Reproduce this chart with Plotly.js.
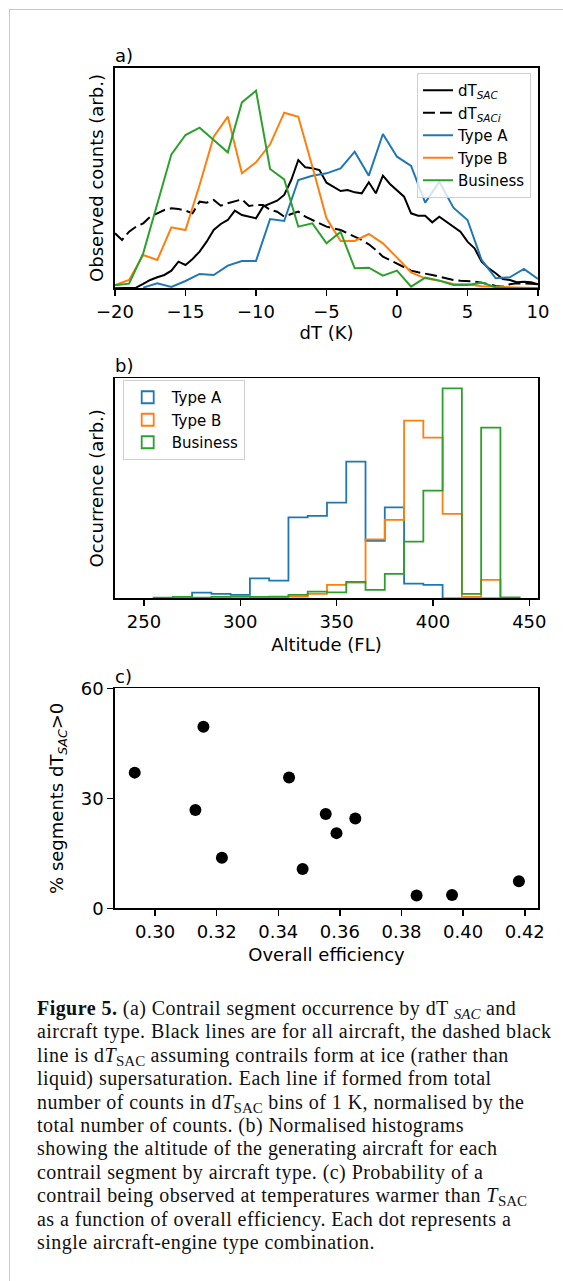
<!DOCTYPE html>
<html>
<head>
<meta charset="utf-8">
<script src="https://cdn.plot.ly/plotly-3.0.1.min.js"></script>
<style>
  html, body { margin: 0; padding: 0; background: #fff; }
  #wrap { position: relative; width: 563px; height: 1281px; overflow: hidden; }
  #frame { position: absolute; left: 9px; top: 9px; width: 600px; height: 1300px;
           border-left: 1.5px solid #c8c8c8; border-top: 1.5px solid #c8c8c8; }
  #chart { position: absolute; left: 0; top: 0; width: 563px; height: 1281px; }
  #caption { position: absolute; left: 37px; top: 997px; font-family: 'Liberation Serif', serif;
             font-size: 20px; letter-spacing: 0.45px; line-height: 23.4px; color: #111; white-space: nowrap; }
  #caption sub { font-size: 0.75em; vertical-align: -0.25em; line-height: 0; letter-spacing: 0; }
</style>
</head>
<body>
<div id="wrap">
  <div id="frame"></div>
  <div id="chart"></div>
  <div id="caption">
    <div><b>Figure 5.</b> (a) Contrail segment occurrence by dT <sub><i>SAC</i></sub> and</div>
    <div>aircraft type. Black lines are for all aircraft, the dashed black</div>
    <div>line is d<i>T</i><sub>SAC</sub> assuming contrails form at ice (rather than</div>
    <div>liquid) supersaturation. Each line if formed from total</div>
    <div>number of counts in d<i>T</i><sub>SAC</sub> bins of 1 K, normalised by the</div>
    <div>total number of counts. (b) Normalised histograms</div>
    <div>showing the altitude of the generating aircraft for each</div>
    <div>contrail segment by aircraft type. (c) Probability of a</div>
    <div>contrail being observed at temperatures warmer than <i>T</i><sub>SAC</sub></div>
    <div>as a function of overall efficiency. Each dot represents a</div>
    <div>single aircraft-engine type combination.</div>
  </div>
</div>
<script>
// ---------- Panel (a): counts vs dT ----------
// 1 K bins
const dT1 = [-20,-19,-18,-17,-16,-15,-14,-13,-12,-11,-10,-9,-8,-7,-6,-5,-4,-3,-2,-1,0,1,2,3,4,5,6,7,8,9,10];
const typeA_counts    = [null,null,2,15,4,22,43,40,68,82,82,208,202,325,338,345,360,410,338,463,395,367,257,320,242,205,85,30,33,58,28];
const typeB_counts    = [10,25,100,85,183,175,310,455,515,345,378,432,527,515,365,210,142,142,163,135,92,48,30,23,13,12,6,4,3,2,1];
const business_counts = [9,14,105,255,402,460,482,445,408,558,593,358,327,185,195,135,169,60,62,38,53,5,32,23,10,10,17,3,0,0,0];
// 0.5 K resolution for all-aircraft lines
const dTHalf = [-20,-19.5,-19,-18.5,-18,-17.5,-17,-16.5,-16,-15.5,-15,-14.5,-14,-13.5,-13,-12.5,-12,-11.5,-11,-10.5,
  -10,-9.5,-9,-8.5,-8,-7.5,-7,-6.5,-6,-5.5,-5,-4.5,-4,-3.5,-3,-2.5,-2,-1.5,-1,-0.5,
  0,0.5,1,1.5,2,2.5,3,3.5,4,4.5,5,5.5,6,6.5,7,7.5,8,8.5,9,9.5,10];
const dTSAC_counts = [0,0,0,2,13,25,33,40,53,80,70,88,110,140,175,193,205,233,220,215,
  210,245,255,263,280,325,385,363,360,355,317,305,292,295,288,285,318,285,338,313,
  295,275,225,218,218,198,215,200,185,170,140,120,80,60,45,28,25,18,20,18,12];
const dTSACi_counts = [165,145,170,185,195,215,225,235,240,238,233,225,260,257,265,248,255,260,267,247,
  250,250,235,230,215,223,230,215,205,195,185,180,175,165,155,145,132,115,95,85,
  73,63,53,48,45,40,35,30,25,23,22,20,17,12,7,5,12,15,15,14,12];

// ---------- Panel (b): altitude histograms ----------
const altEdges = [255,265,275,285,295,305,315,325,335,345,355,365,375,385,395,405,415,425,435,445];
const altTypeA    = [0,0,17,13,10,60,53,243,247,287,410,172,273,44,40,0,0,0,0];
const altTypeB    = [0,0,0,0,0,4,2,5,13,40,47,177,235,533,482,253,4,55,0];
const altBusiness = [2,4,2,4,5,4,5,10,20,18,49,25,73,170,323,630,13,512,3];

// ---------- Panel (c): efficiency scatter ----------
const efficiency = [0.2934,0.3157,0.3131,0.3217,0.3435,0.3479,0.3554,0.3589,0.3650,0.3849,0.3964,0.4181];
const pctWarm    = [37.0,49.5,26.8,13.8,35.7,10.7,25.7,20.5,24.5,3.5,3.6,7.4];

const seriesNames = ['Type A','Type B','Business'];
const colA = '#1f77b4', colB = '#ff7f0e', colC = '#2ca02c';

// ---------- geometry (pixels) ----------
const W = 563, H = 1281;
const px = v => v / W, py = v => 1 - v / H;
const FONT = 'DejaVu Sans, sans-serif';

function stepXY(edges, counts) {
  const xs = [edges[0]], ys = [0];
  for (let i = 0; i < counts.length; i++) { xs.push(edges[i]); ys.push(counts[i]); }
  xs.push(edges[edges.length - 1]); ys.push(0);
  return {x: xs, y: ys};
}

const traces = [];
// panel a
traces.push({x: dTHalf, y: dTSAC_counts, mode: 'lines', line: {color: '#000', width: 2},
  name: 'dT<sub><i>SAC</i></sub>', xaxis: 'x', yaxis: 'y', legend: 'legend'});
traces.push({x: dTHalf, y: dTSACi_counts, mode: 'lines', line: {color: '#000', width: 2, dash: '12px,5px'},
  name: 'dT<sub><i>SACi</i></sub>', xaxis: 'x', yaxis: 'y', legend: 'legend'});
[[typeA_counts, colA], [typeB_counts, colB], [business_counts, colC]].forEach((s, i) => {
  traces.push({x: dT1, y: s[0], mode: 'lines', line: {color: s[1], width: 2},
    name: seriesNames[i], xaxis: 'x', yaxis: 'y', legend: 'legend'});
});
// panel b
[[altTypeA, colA], [altTypeB, colB], [altBusiness, colC]].forEach((s, i) => {
  const st = stepXY(altEdges, s[0]);
  traces.push({x: st.x, y: st.y, mode: 'lines', line: {color: s[1], width: 1.8, shape: 'hv'},
    name: seriesNames[i], showlegend: false, xaxis: 'x2', yaxis: 'y2'});
});
// legend entries for panel b (outlined patches)
[colA, colB, colC].forEach((c, i) => {
  traces.push({type: 'bar', x: [null], y: [null], name: seriesNames[i],
    marker: {color: 'rgba(0,0,0,0)', line: {color: c, width: 1.8}},
    xaxis: 'x2', yaxis: 'y2', legend: 'legend2', hoverinfo: 'skip'});
});
// panel c
traces.push({x: efficiency, y: pctWarm, mode: 'markers', marker: {color: '#000', size: 12},
  showlegend: false, xaxis: 'x3', yaxis: 'y3'});

const axCommon = {showline: true, mirror: true, linecolor: '#000', linewidth: 1.7, showgrid: false,
  zeroline: false, ticks: 'outside', ticklen: 6, tickwidth: 1.5, tickcolor: '#000',
  tickfont: {family: FONT, size: 18, color: '#000'}};
const titleFont = {family: FONT, size: 18, color: '#000'};

const L = 115, R = 538;
const layout = {
  width: W, height: H, margin: {l: 0, r: 0, t: 0, b: 0}, paper_bgcolor: 'rgba(0,0,0,0)',
  plot_bgcolor: 'rgba(0,0,0,0)', showlegend: true, font: {family: FONT, color: '#000'},
  xaxis: Object.assign({}, axCommon, {domain: [px(L), px(R)], anchor: 'y', range: [-20, 10],
    tickvals: [-20, -15, -10, -5, 0, 5, 10], ticktext: ['\u221220','\u221215','\u221210','\u22125','0','5','10'],
    title: {text: 'dT (K)', font: titleFont, standoff: 5}}),
  yaxis: Object.assign({}, axCommon, {domain: [py(288.3), py(67.7)], anchor: 'x', range: [0, 662],
    ticks: '', showticklabels: false, title: {text: 'Observed counts (arb.)', font: titleFont, standoff: 5}}),
  xaxis2: Object.assign({}, axCommon, {domain: [px(L), px(R)], anchor: 'y2', range: [235, 454.5],
    tickvals: [250, 300, 350, 400, 450], title: {text: 'Altitude (FL)', font: titleFont, standoff: 8}}),
  yaxis2: Object.assign({}, axCommon, {domain: [py(598.3), py(378.3)], anchor: 'x2', range: [0, 660],
    ticks: '', showticklabels: false, title: {text: 'Occurrence (arb.)', font: titleFont, standoff: 5}}),
  xaxis3: Object.assign({}, axCommon, {domain: [px(L), px(R)], anchor: 'y3', range: [0.287, 0.4243],
    tickvals: [0.30, 0.32, 0.34, 0.36, 0.38, 0.40, 0.42], tickformat: '.2f',
    title: {text: 'Overall efficiency', font: titleFont, standoff: 8}}),
  yaxis3: Object.assign({}, axCommon, {domain: [py(908.3), py(688.3)], anchor: 'x3', range: [0, 60],
    tickvals: [0, 30, 60], title: {text: '% segments dT<sub><i>SAC</i></sub>>0', font: titleFont, standoff: 12}}),
  legend: {x: px(531), xanchor: 'right', y: py(73), yanchor: 'top', bgcolor: 'rgba(255,255,255,0.8)',
    bordercolor: '#d0d0d0', borderwidth: 1, font: {family: FONT, size: 15, color: '#000'}, tracegroupgap: 0},
  legend2: {x: px(122.7), xanchor: 'left', y: py(380), yanchor: 'top', bgcolor: 'rgba(255,255,255,0.8)',
    bordercolor: '#d0d0d0', borderwidth: 1, font: {family: FONT, size: 15, color: '#000'}, tracegroupgap: 0,
    itemwidth: 38},
  annotations: [
    {text: 'a)', xref: 'paper', yref: 'paper', x: px(L), y: py(67.7), xanchor: 'left', yanchor: 'bottom',
     showarrow: false, font: {family: FONT, size: 18, color: '#000'}, xshift: -2},
    {text: 'b)', xref: 'paper', yref: 'paper', x: px(L), y: py(378.3), xanchor: 'left', yanchor: 'bottom',
     showarrow: false, font: {family: FONT, size: 18, color: '#000'}, xshift: -2},
    {text: 'c)', xref: 'paper', yref: 'paper', x: px(L), y: py(688.3), xanchor: 'left', yanchor: 'bottom',
     showarrow: false, font: {family: FONT, size: 18, color: '#000'}, xshift: -2, yshift: -1}
  ]
};

Plotly.newPlot('chart', traces, layout, {staticPlot: true, displayModeBar: false});
</script>
</body>
</html>
